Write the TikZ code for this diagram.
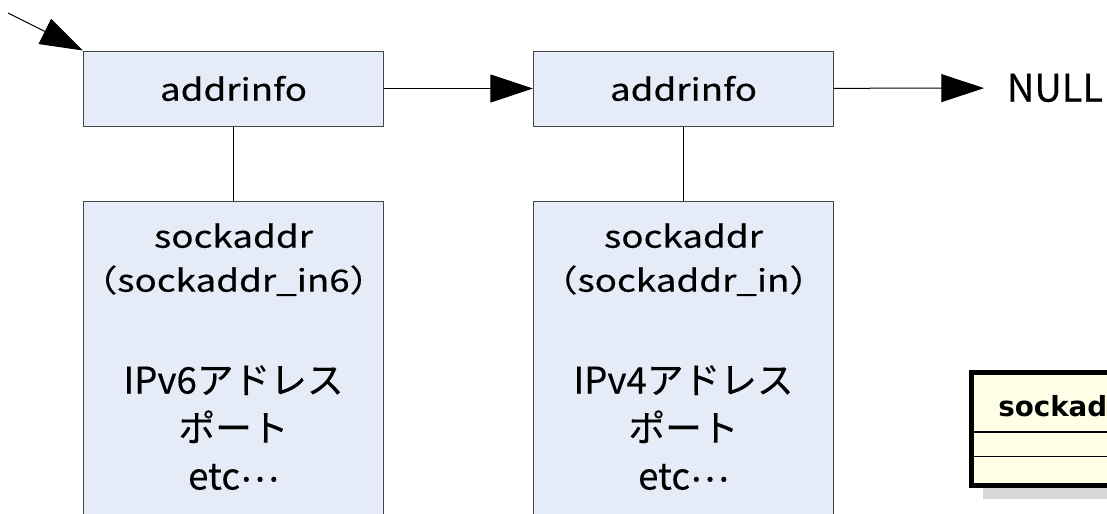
\documentclass[tikz,border=0pt]{standalone}
\usepackage{fontspec}
\setmainfont{Noto Sans CJK JP}[FakeBold=0.4]
\newfontfamily\widefont{Noto Sans CJK JP}[FakeStretch=1.2, FakeBold=0.4]
\newfontfamily\umlfont{DejaVu Sans}
\usetikzlibrary{arrows.meta, positioning, calc}

\definecolor{boxfill}{RGB}{230,236,247}
\definecolor{boxline}{RGB}{70,70,70}
\definecolor{umlfill}{RGB}{255,255,232}
\definecolor{umlshade}{RGB}{215,215,215}

\begin{document}
\begin{tikzpicture}[
    x=0.75pt, y=-0.75pt,
    listbox/.style={draw=boxline, line width=0.75pt, fill=boxfill,
                    minimum width=225pt, minimum height=56.25pt, inner sep=0pt,
                    font=\widefont\fontsize{23}{28}\selectfont},
    membox/.style={draw=boxline, line width=0.75pt, fill=boxfill,
                   minimum width=225pt, minimum height=255pt, inner sep=0pt,
                   anchor=north},
    small/.style={align=center, inner sep=0pt, anchor=north,
                  font=\widefont\fontsize{23}{33}\selectfont},
    large/.style={align=center, inner sep=0pt, anchor=north,
                  font=\fontsize{27.5}{36}\selectfont},
    link/.style={-{Triangle[length=32pt,width=21pt]}, line width=0.75pt},
    stem/.style={line width=0.75pt}
  ]
  \clip (0,0) rectangle (1107,514);
  % addrinfo list
  \node[listbox] (ai6) at (233.5,88.5) {addrinfo};
  \node[listbox] (ai4) at (683.5,88.5) {addrinfo};
  \node[large, anchor=center, inner xsep=17pt,
        font=\fontsize{28.5}{36}\selectfont] (null) at (1055,88) {NULL};
  \coordinate (res) at (8,13);
  \draw[link] (res) -- (ai6.north west);
  \draw[link] (ai6) -- (ai4);
  \draw[link] (ai4) -- (null);
  % sockaddr of each entry
  \node[membox] (sa6) at (233.5,201) {};
  \node[membox] (sa4) at (683.5,201) {};
  \draw[stem] (ai6) -- (sa6);
  \draw[stem] (ai4) -- (sa4);
  \node[small] (sa6name) at ($(sa6.north)+(0,22)$) {sockaddr\\（sockaddr\_in6）};
  \node[small] (sa4name) at ($(sa4.north)+(0,22)$) {sockaddr\\（sockaddr\_in）};
  \node[large] (sa6body) at ($(sa6.north)+(0,164)$)
    {IPv6アドレス\\ポート\\etc\raisebox{0.22em}{…}};
  \node[large] (sa4body) at ($(sa4.north)+(0,164)$)
    {IPv4アドレス\\ポート\\etc\raisebox{0.22em}{…}};
  % class box cut off at the edge
  \fill[umlshade] (983,488) rectangle (1110,499);
  \draw[line width=3.75pt, fill=umlfill] (971.5,372.5) rectangle (1120,485.5);
  \draw[line width=1.2pt] (972,432) -- (1120,432) (972,456.5) -- (1120,456.5);
  \node[anchor=base west, inner sep=0pt,
        font=\umlfont\bfseries\fontsize{20.8}{24}\selectfont] (cls) at (998,416) {sockad};
\end{tikzpicture}
\end{document}
